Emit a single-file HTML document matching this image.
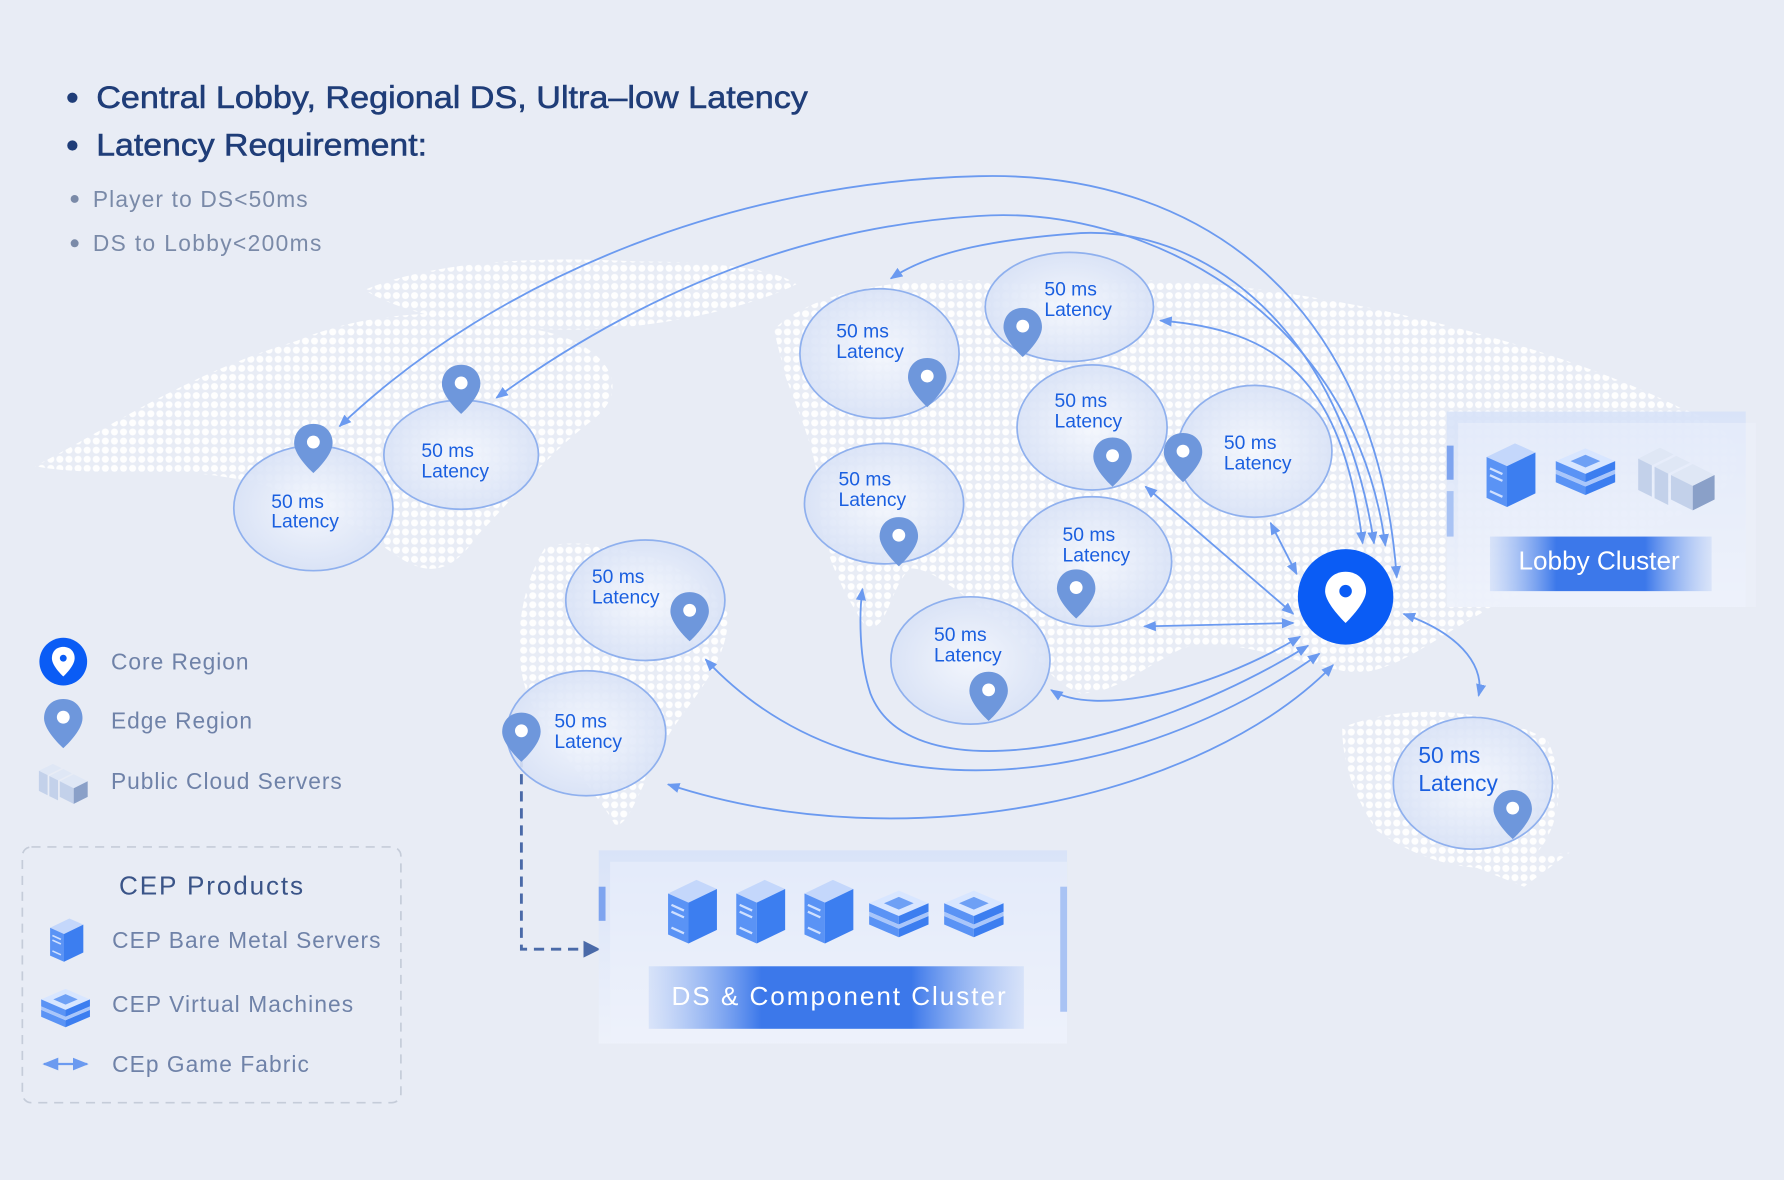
<!DOCTYPE html>
<html><head><meta charset="utf-8"><style>
html,body{margin:0;padding:0;background:#e8ecf5;}
svg{display:block}
text{font-family:"Liberation Sans",sans-serif;}
</style></head><body>
<svg width="1784" height="1180" viewBox="0 0 1568 1038" xmlns="http://www.w3.org/2000/svg">
<defs>
<pattern id="dots" width="8" height="8" patternUnits="userSpaceOnUse"><circle cx="4" cy="4" r="3.1" fill="#fff" opacity="0.95"/></pattern>
<radialGradient id="eg" cx="50%" cy="50%" r="60%"><stop offset="0" stop-color="#f4f7fd" stop-opacity="0.9"/><stop offset="1" stop-color="#d3def5" stop-opacity="0.9"/></radialGradient>
<linearGradient id="band" x1="0" x2="1"><stop offset="0" stop-color="#8db0f2" stop-opacity="0.2"/><stop offset="0.3" stop-color="#3c78ea"/><stop offset="0.7" stop-color="#3c78ea"/><stop offset="1" stop-color="#8db0f2" stop-opacity="0.2"/></linearGradient>
<linearGradient id="box" x1="0" y1="0" x2="0" y2="1"><stop offset="0" stop-color="#d7e2f8"/><stop offset="1" stop-color="#eef2fb"/></linearGradient>
<marker id="ah" viewBox="0 0 10 10" refX="9" refY="5" markerWidth="7" markerHeight="7" orient="auto-start-reverse"><path d="M0,1 L10,5 L0,9 z" fill="#6b9af0"/></marker>
<marker id="ahd" viewBox="0 0 10 10" refX="9" refY="5" markerWidth="6" markerHeight="6" orient="auto"><path d="M0,0 L10,5 L0,10 z" fill="#4a6aa8"/></marker>
<symbol id="pin" viewBox="0 0 40 50"><path d="M20 2 C9 2 2 10 2 20 C2 32 20 48 20 48 C20 48 38 32 38 20 C38 10 31 2 20 2z" fill="#6e97dc"/><circle cx="20" cy="19" r="6" fill="#fff"/></symbol>
<symbol id="srv" viewBox="0 0 50 60"><path d="M5 14 L30 2 L48 10 L23 22z" fill="#c4d7fb"/><path d="M5 14 L23 22 L23 58 L5 50z" fill="#5a93f5"/><path d="M23 22 L48 10 L48 46 L23 58z" fill="#3c7ef0"/><path d="M8 24 L19 29 M8 30 L19 35 M8 44 L19 49" stroke="#cfe0ff" stroke-width="2"/></symbol>
<symbol id="vm" viewBox="0 0 60 50"><path d="M2 16 L30 4 L58 16 L30 28z" fill="#d8e6ff"/><path d="M16 16 L30 10 L44 16 L30 22z" fill="#6ea0f5"/><path d="M2 16 L30 28 L30 36 L2 24z" fill="#5a93f5"/><path d="M30 28 L58 16 L58 24 L30 36z" fill="#3c7ef0"/><path d="M2 28 L30 40 L30 48 L2 36z" fill="#5a93f5"/><path d="M30 40 L58 28 L58 36 L30 48z" fill="#3c7ef0"/><path d="M2 24 L30 36 L58 24 L58 28 L30 40 L2 28z" fill="#a9c6fa"/></symbol>
<symbol id="pcs" viewBox="0 0 60 50"><path d="M2 12 L18 4 L28 9 L12 17z" fill="#dfe7f5"/><path d="M2 12 L12 17 L12 40 L2 35z" fill="#c3d1ea"/><path d="M14 18 L30 10 L40 15 L24 23z" fill="#dfe7f5"/><path d="M14 18 L24 23 L24 46 L14 41z" fill="#c3d1ea"/><path d="M26 24 L42 16 L58 24 L42 32z" fill="#dfe7f5"/><path d="M26 24 L42 32 L42 50 L26 42z" fill="#c3d1ea"/><path d="M42 32 L58 24 L58 42 L42 50z" fill="#8aa0c8"/></symbol>
</defs>
<rect width="1568" height="1038" fill="#e8ecf5"/>
<g fill="url(#dots)">
<path d="M30 410 C90 380 160 330 260 300 C330 270 420 270 470 290 C530 300 560 340 520 370 C480 400 450 440 420 470 C400 500 380 510 350 490 C320 470 270 430 200 420 C140 410 80 420 30 410z"/>
<path d="M320 255 C380 230 470 225 560 230 C620 230 680 235 700 250 C660 270 580 290 500 290 C430 290 360 280 320 255z"/>
<path d="M480 480 C540 470 620 500 640 540 C640 590 600 620 580 660 C560 700 550 730 540 725 C520 690 470 640 460 600 C450 560 460 510 480 480z"/>
<path d="M680 290 C720 250 820 240 900 250 C1000 240 1100 250 1200 270 C1300 290 1400 320 1480 360 C1540 380 1540 420 1500 440 C1450 470 1380 500 1320 530 C1260 560 1220 600 1180 590 C1130 580 1080 560 1040 570 C1000 590 980 610 950 610 C920 600 900 560 870 540 C840 520 820 500 800 500 C780 520 780 560 760 550 C740 520 720 480 720 440 C720 400 700 360 690 330z"/>
<path d="M1180 640 C1230 620 1300 620 1360 650 C1380 690 1370 740 1340 760 C1300 770 1250 760 1210 730 C1190 700 1180 670 1180 640z"/>
<path d="M1290 760 L1380 750 L1340 780z"/>
</g>
<g fill="#1f3d78" font-size="28" font-weight="bold">
<circle cx="63" cy="86" r="4.5" fill="#1f3d78"/><text x="84" y="95" textLength="626" lengthAdjust="spacingAndGlyphs" font-weight="normal" stroke="#1f3d78" stroke-width="0.5">Central Lobby, Regional DS, Ultra–low Latency</text>
<circle cx="63" cy="128" r="4.5" fill="#1f3d78"/><text x="84" y="137" textLength="291" lengthAdjust="spacingAndGlyphs" font-weight="normal" stroke="#1f3d78" stroke-width="0.5">Latency Requirement:</text>
</g>
<g fill="#7a8aa8" font-size="20">
<circle cx="65" cy="175" r="3.5"/><text x="81" y="182" textLength="189">Player to DS&lt;50ms</text>
<circle cx="65" cy="214" r="3.5"/><text x="81" y="221" textLength="201">DS to Lobby&lt;200ms</text>
</g>
<g fill="none" stroke="#6b9af0" stroke-width="1.6" marker-start="url(#ah)" marker-end="url(#ah)">
<path d="M1228 508 C1210 260 1050 150 860 155 C650 160 440 240 298 375"/>
<path d="M1218 480 C1190 270 1000 180 860 190 C700 200 560 260 436 350"/>
<path d="M1208 478 C1180 290 1060 200 950 205 C880 210 820 220 783 245"/>
<path d="M1198 478 C1180 330 1120 290 1020 282"/>
<path d="M1140 505 L1117 460"/>
<path d="M1137 540 L1007 428"/>
<path d="M1137 548 L1006 551"/>
<path d="M1143 560 C1060 610 960 630 924 607"/>
<path d="M1150 568 C1000 660 800 700 765 610 C755 580 755 540 758 518"/>
<path d="M1160 575 C1000 690 760 730 620 580"/>
<path d="M1172 585 C1060 700 800 760 587 690"/>
<path d="M1234 540 C1290 560 1305 590 1300 612"/>
</g>
<path d="M458 666 L458 835 L526 835" fill="none" stroke="#4a6aa8" stroke-width="2.5" stroke-dasharray="9 6" marker-end="url(#ahd)"/>
<g fill="url(#eg)" stroke="#8fb0ee" stroke-width="1.5">
<ellipse cx="275" cy="447" rx="70" ry="55"/>
<ellipse cx="405" cy="400" rx="68" ry="48"/>
<ellipse cx="773" cy="311" rx="70" ry="57"/>
<ellipse cx="940" cy="270" rx="74" ry="48"/>
<ellipse cx="960" cy="376" rx="66" ry="55"/>
<ellipse cx="1103" cy="397" rx="68" ry="58"/>
<ellipse cx="777" cy="443" rx="70" ry="53"/>
<ellipse cx="960" cy="494" rx="70" ry="57"/>
<ellipse cx="853" cy="581" rx="70" ry="56"/>
<ellipse cx="567" cy="528" rx="70" ry="53"/>
<ellipse cx="515" cy="645" rx="70" ry="55"/>
<ellipse cx="1295" cy="689" rx="70" ry="58"/>
</g>
<g fill="#1a5fe0" font-size="17">
<text x="238" y="447">50 ms</text><text x="238" y="464">Latency</text>
<text x="370" y="402">50 ms</text><text x="370" y="420">Latency</text>
<text x="735" y="297">50 ms</text><text x="735" y="315">Latency</text>
<text x="918" y="260">50 ms</text><text x="918" y="278">Latency</text>
<text x="927" y="358">50 ms</text><text x="927" y="376">Latency</text>
<text x="1076" y="395">50 ms</text><text x="1076" y="413">Latency</text>
<text x="737" y="427">50 ms</text><text x="737" y="445">Latency</text>
<text x="934" y="476">50 ms</text><text x="934" y="494">Latency</text>
<text x="821" y="564">50 ms</text><text x="821" y="582">Latency</text>
<text x="520" y="513">50 ms</text><text x="520" y="531">Latency</text>
<text x="487" y="640">50 ms</text><text x="487" y="658">Latency</text>
<text x="1247" y="671" font-size="20">50 ms</text><text x="1247" y="696" font-size="20">Latency</text>
</g>
<g>
<use href="#pin" x="256" y="371" width="38" height="47"/>
<use href="#pin" x="386" y="319" width="38" height="47"/>
<use href="#pin" x="796" y="313" width="38" height="47"/>
<use href="#pin" x="880" y="269" width="38" height="47"/>
<use href="#pin" x="959" y="383" width="38" height="47"/>
<use href="#pin" x="1021" y="379" width="38" height="47"/>
<use href="#pin" x="771" y="453" width="38" height="47"/>
<use href="#pin" x="927" y="499" width="38" height="47"/>
<use href="#pin" x="850" y="589" width="38" height="47"/>
<use href="#pin" x="587" y="519" width="38" height="47"/>
<use href="#pin" x="439" y="625" width="38" height="47"/>
<use href="#pin" x="1311" y="693" width="38" height="47"/>
</g>
<circle cx="1183" cy="525" r="42" fill="#0a5cf5"/>
<path d="M1183 503 C1172 503 1165 511 1165 520 C1165 531 1183 548 1183 548 C1183 548 1201 531 1201 520 C1201 511 1194 503 1183 503z" fill="#fff"/>
<circle cx="1183" cy="520" r="5.5" fill="#0a5cf5"/>
<rect x="1272" y="362" width="263" height="172" fill="url(#box)" opacity="0.9"/>
<rect x="1282" y="372" width="262" height="162" fill="#eef2fb" opacity="0.5"/>
<rect x="1272" y="392" width="6" height="30" fill="#7ea4ef"/><rect x="1272" y="432" width="6" height="40" fill="#a9c3f4"/>
<use href="#srv" x="1302" y="388" width="50" height="60"/>
<use href="#vm" x="1366" y="390" width="56" height="48"/>
<use href="#pcs" x="1438" y="388" width="72" height="62"/>
<rect x="1310" y="472" width="195" height="48" fill="url(#band)"/>
<text x="1406" y="501" fill="#fff" font-size="23" text-anchor="middle">Lobby Cluster</text>
<rect x="526" y="748" width="412" height="170" fill="url(#box)" opacity="0.9"/>
<rect x="536" y="758" width="402" height="160" fill="#eef2fb" opacity="0.5"/>
<rect x="526" y="780" width="6" height="30" fill="#7ea4ef"/><rect x="932" y="780" width="6" height="110" fill="#a9c3f4"/>
<use href="#srv" x="582" y="772" width="50" height="60"/>
<use href="#srv" x="642" y="772" width="50" height="60"/>
<use href="#srv" x="702" y="772" width="50" height="60"/>
<use href="#vm" x="762" y="778" width="56" height="50"/>
<use href="#vm" x="828" y="778" width="56" height="50"/>
<rect x="570" y="850" width="330" height="55" fill="url(#band)"/>
<text x="737" y="884" fill="#fff" font-size="23" text-anchor="middle" textLength="294">DS &amp; Component Cluster</text>
<circle cx="55" cy="582" r="21" fill="#0a5cf5"/>
<path d="M55 569 C49 569 45 573 45 579 C45 586 55 595 55 595 C55 595 65 586 65 579 C65 573 61 569 55 569z" fill="#fff"/><circle cx="55" cy="579" r="3" fill="#0a5cf5"/>
<use href="#pin" x="36" y="613" width="38" height="47"/>
<use href="#pcs" x="32" y="668" width="46" height="40"/>
<g fill="#6f82a8" font-size="20">
<text x="97" y="589" textLength="121">Core Region</text>
<text x="97" y="641" textLength="124">Edge Region</text>
<text x="97" y="694" textLength="203">Public Cloud Servers</text>
</g>
<rect x="19" y="745" width="333" height="225" rx="8" fill="none" stroke="#c5ccd9" stroke-width="1.5" stroke-dasharray="8 6"/>
<text x="104" y="787" fill="#3a5488" font-size="23" textLength="162">CEP Products</text>
<use href="#srv" x="40" y="806" width="34" height="42"/>
<use href="#vm" x="34" y="866" width="46" height="40"/>
<path d="M38 936 L76 936" stroke="#6b9af0" stroke-width="2" marker-start="url(#ah)" marker-end="url(#ah)"/>
<g fill="#6f82a8" font-size="20">
<text x="98" y="834" textLength="236">CEP Bare Metal Servers</text>
<text x="98" y="890" textLength="212">CEP Virtual Machines</text>
<text x="98" y="943" textLength="173">CEp Game Fabric</text>
</g>
</svg>
</body></html>
